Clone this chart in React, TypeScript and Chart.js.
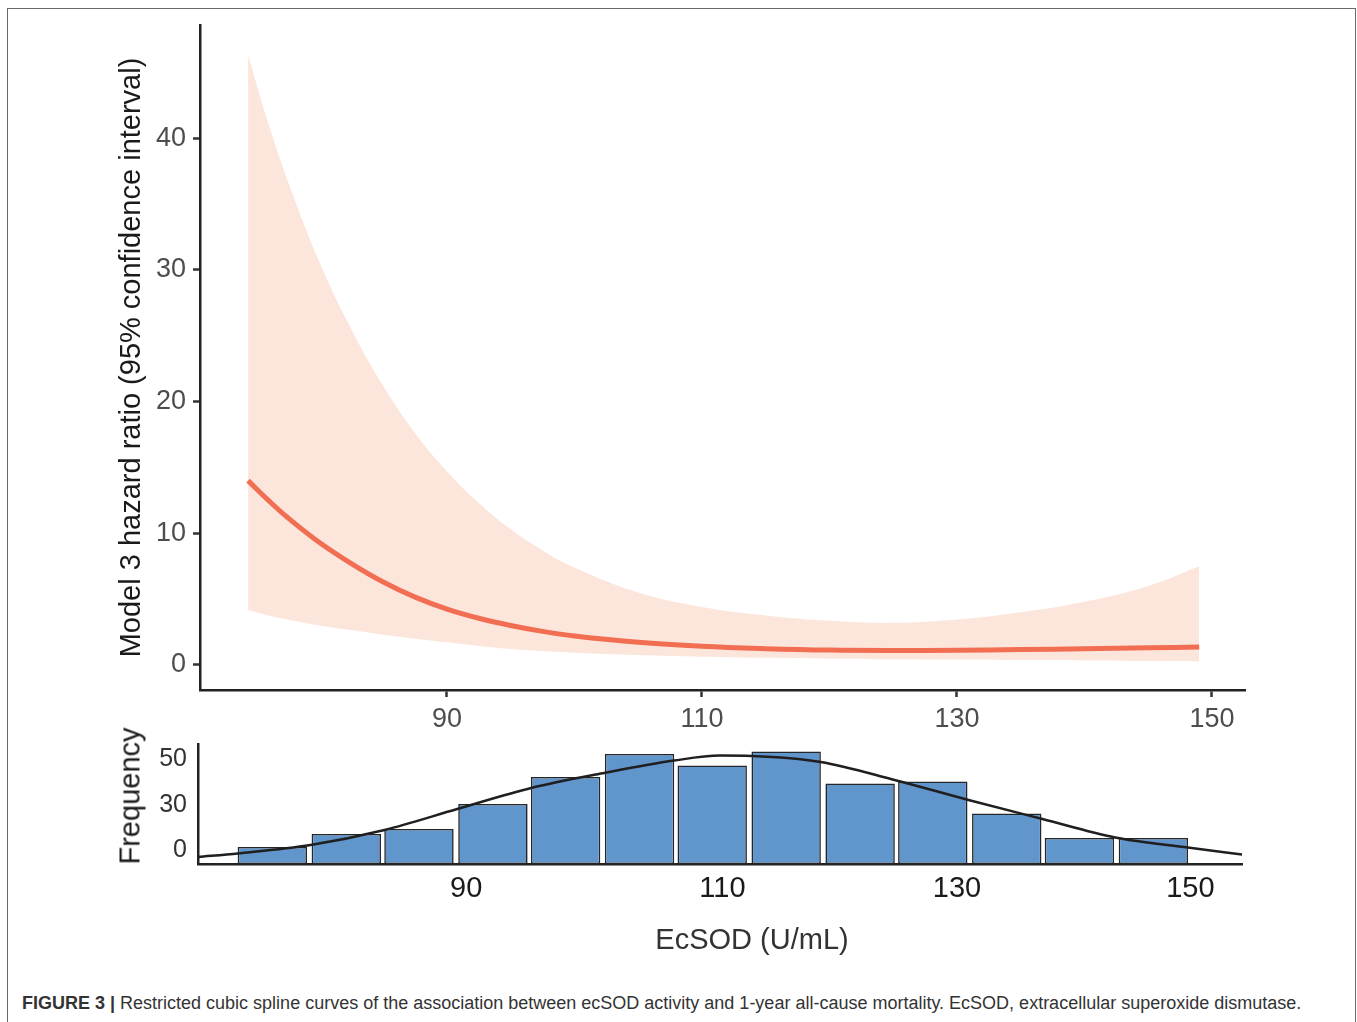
import React, { useEffect, useRef } from 'react';
import { Chart, registerables } from 'chart.js';

Chart.register(...registerables);

const FONT = '"Liberation Sans", Arial, Helvetica, sans-serif';

// ---- Top panel: restricted cubic spline (hazard ratio with 95% CI) ----
const splineX = [74.4, 76, 77.5, 80, 82.5, 85, 87.5, 90, 92.5, 95, 97.5, 100, 105, 110, 115, 120, 125, 130, 135, 140, 145, 149];
const hazardRatio = [14.0, 12.5, 11.2, 9.3, 7.7, 6.3, 5.15, 4.25, 3.55, 3.0, 2.55, 2.2, 1.72, 1.42, 1.24, 1.13, 1.1, 1.12, 1.17, 1.23, 1.3, 1.37];
const ciUpper = [46.3, 41.1, 36.8, 30.6, 25.5, 21.2, 17.6, 14.7, 12.3, 10.3, 8.7, 7.4, 5.5, 4.4, 3.75, 3.35, 3.2, 3.45, 4.0, 4.8, 6.0, 7.5];
const ciLower = [4.2, 3.75, 3.45, 3.0, 2.65, 2.3, 2.0, 1.72, 1.45, 1.22, 1.06, 0.93, 0.76, 0.63, 0.54, 0.48, 0.44, 0.41, 0.37, 0.34, 0.3, 0.27];
const topXTicks = [90, 110, 130, 150];
const topYTicks = [0, 10, 20, 30, 40];

// ---- Bottom panel: histogram of EcSOD with normal curve ----
const binCenters = [76.3, 82.1, 87.8, 93.6, 99.3, 105.1, 110.8, 116.6, 122.4, 128.1, 133.9, 139.6, 145.4];
const binCounts = [8.5, 15, 17.5, 30, 43.5, 55, 49.3, 56.3, 40.3, 41.3, 25.3, 13, 13];
const densityX = [70.47, 73.6, 79.3, 85.1, 90.8, 96.6, 102.4, 107.8, 111.4, 113.9, 119.3, 125.1, 130.9, 136.7, 142.4, 148.1, 152.35];
const densityY = [3.5, 5.3, 9.5, 17, 27.5, 38, 45.6, 51.7, 54.2, 54.0, 51.0, 42, 32, 22.5, 13.3, 8.2, 4.8];
const histXTickValues = [91.5, 111.6, 130.0, 148.3];
const histXTickLabels = ['90', '110', '130', '150'];
const histYTickValues = [6.7, 29.5, 52.4];
const histYTickLabels = ['0', '30', '50'];

const pts = (xs: number[], ys: number[]) => xs.map((x, i) => ({ x, y: ys[i] }));

export default function App() {
  const topRef = useRef<HTMLCanvasElement>(null);
  const histRef = useRef<HTMLCanvasElement>(null);

  useEffect(() => {
    const top = new Chart(topRef.current as HTMLCanvasElement, {
      type: 'line',
      data: {
        datasets: [
          {
            label: 'Hazard ratio',
            data: pts(splineX, hazardRatio),
            borderColor: '#f26e53',
            borderWidth: 5,
            pointRadius: 0,
            tension: 0.4,
            fill: false,
            order: 0,
          },
          {
            label: 'Lower 95% CI',
            data: pts(splineX, ciLower),
            borderColor: 'rgba(0,0,0,0)',
            borderWidth: 0,
            pointRadius: 0,
            tension: 0.4,
            fill: false,
            order: 2,
          },
          {
            label: 'Upper 95% CI',
            data: pts(splineX, ciUpper),
            borderColor: 'rgba(0,0,0,0)',
            backgroundColor: '#fce6dc',
            borderWidth: 0,
            pointRadius: 0,
            tension: 0.4,
            fill: '-1',
            order: 1,
          },
        ],
      } as any,
      options: {
        animation: false,
        responsive: true,
        maintainAspectRatio: false,
        layout: { padding: { left: 0, top: 25, right: 112, bottom: 0 } },
        plugins: { legend: { display: false }, tooltip: { enabled: false } },
        scales: {
          x: {
            type: 'linear',
            min: 70.63,
            max: 152.59,
            afterBuildTicks: (s: any) => { s.ticks = topXTicks.map((v) => ({ value: v })); },
            afterFit: (s: any) => { s.height = 70; },
            grid: { display: true, drawOnChartArea: false, drawTicks: true, tickLength: 7, tickWidth: 2.5, tickColor: '#333' },
            border: { display: true, color: '#222', width: 2.5 },
            ticks: { font: { family: FONT, size: 27 }, color: '#4d4d4d', padding: 6, maxRotation: 0, autoSkip: false },
          },
          y: {
            type: 'linear',
            min: -1.9,
            max: 48.6,
            afterBuildTicks: (s: any) => { s.ticks = topYTicks.map((v) => ({ value: v })); },
            afterFit: (s: any) => { s.width = 200; },
            grid: { display: true, drawOnChartArea: false, drawTicks: true, tickLength: 7, tickWidth: 2.5, tickColor: '#333' },
            border: { display: true, color: '#222', width: 2.5 },
            ticks: { font: { family: FONT, size: 27 }, color: '#4d4d4d', padding: 7, autoSkip: false },
            title: {
              display: true,
              text: 'Model 3 hazard ratio (95% confidence interval)',
              font: { family: FONT, size: 29 },
              color: '#1a1a1a',
              padding: { top: 115, bottom: 0 },
            },
          },
        },
      } as any,
    });

    const hist = new Chart(histRef.current as HTMLCanvasElement, {
      type: 'bar',
      data: {
        datasets: [
          {
            type: 'line',
            label: 'Normal curve',
            data: pts(densityX, densityY),
            borderColor: '#1f1f1f',
            borderWidth: 2.5,
            pointRadius: 0,
            cubicInterpolationMode: 'monotone',
            fill: false,
            order: 0,
          },
          {
            type: 'bar',
            label: 'Frequency',
            data: pts(binCenters, binCounts),
            backgroundColor: '#6196cd',
            borderColor: '#262626',
            borderWidth: 1.6,
            borderSkipped: false,
            barPercentage: 0.955,
            categoryPercentage: 1,
            order: 1,
          },
        ],
      } as any,
      options: {
        animation: false,
        responsive: true,
        maintainAspectRatio: false,
        layout: { padding: { left: 0, top: 44, right: 115, bottom: 0 } },
        plugins: { legend: { display: false }, tooltip: { enabled: false } },
        scales: {
          x: {
            type: 'linear',
            min: 70.47,
            max: 152.35,
            offset: false,
            afterBuildTicks: (s: any) => { s.ticks = histXTickValues.map((v) => ({ value: v })); },
            afterFit: (s: any) => { s.height = 116; },
            grid: { display: false, drawTicks: false },
            border: { display: true, color: '#222', width: 2.5 },
            ticks: {
              font: { family: FONT, size: 29 },
              color: '#1a1a1a',
              padding: 8,
              maxRotation: 0,
              autoSkip: false,
              callback: (_v: any, i: number) => histXTickLabels[i],
            },
          },
          y: {
            type: 'linear',
            min: 0,
            max: 60,
            afterBuildTicks: (s: any) => { s.ticks = histYTickValues.map((v) => ({ value: v })); },
            afterFit: (s: any) => { s.width = 198; },
            grid: { display: false, drawTicks: false },
            border: { display: true, color: '#222', width: 2.5 },
            ticks: {
              font: { family: FONT, size: 25 },
              color: '#333',
              padding: 11,
              autoSkip: false,
              callback: (_v: any, i: number) => histYTickLabels[i],
            },
          },
        },
      } as any,
    });

    return () => {
      top.destroy();
      hist.destroy();
    };
  }, []);

  return (
    <div
      style={{
        position: 'fixed',
        left: 0,
        top: 0,
        width: 1357,
        height: 1022,
        overflow: 'hidden',
        background: '#fff',
        fontFamily: FONT,
      }}
    >
      <div
        style={{
          position: 'absolute',
          left: 7,
          top: 8,
          width: 1349,
          height: 1100,
          border: '1.5px solid #6a6a6a',
          boxSizing: 'border-box',
        }}
      />
      <div style={{ position: 'absolute', left: 0, top: 0, width: 1357, height: 760 }}>
        <canvas ref={topRef} />
      </div>
      <div style={{ position: 'absolute', left: 0, top: 700, width: 1357, height: 280 }}>
        <canvas ref={histRef} />
      </div>
      <div
        style={{
          position: 'absolute',
          left: 130,
          top: 796,
          transform: 'translate(-50%, -50%) rotate(-90deg)',
          fontSize: 29,
          lineHeight: 1,
          color: '#1a1a1a',
          whiteSpace: 'nowrap',
        }}
      >
        Frequency
      </div>
      <div
        style={{
          position: 'absolute',
          left: 752,
          top: 939,
          transform: 'translate(-50%, -50%)',
          fontSize: 29,
          lineHeight: 1,
          color: '#333',
          whiteSpace: 'nowrap',
        }}
      >
        EcSOD (U/mL)
      </div>
      <div
        style={{
          position: 'absolute',
          left: 22,
          top: 993,
          fontSize: 18,
          lineHeight: '20px',
          color: '#333',
          whiteSpace: 'nowrap',
        }}
      >
        <b>FIGURE 3 |</b> Restricted cubic spline curves of the association between ecSOD activity and 1-year all-cause mortality. EcSOD, extracellular superoxide dismutase.
      </div>
    </div>
  );
}
